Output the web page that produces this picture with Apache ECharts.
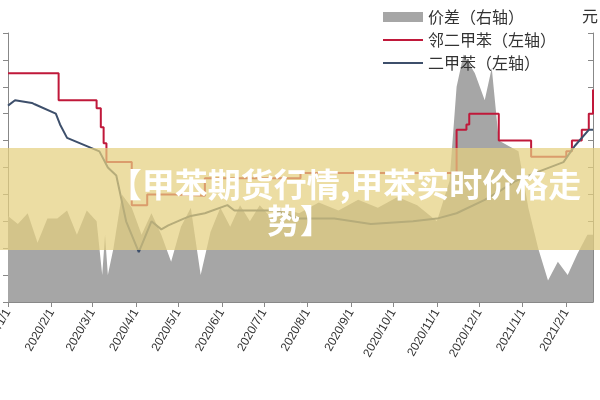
<!DOCTYPE html>
<html><head><meta charset="utf-8">
<script src="https://cdn.jsdelivr.net/npm/echarts@6/dist/echarts.min.js"></script>
<style>html,body{margin:0;background:#fff}#main{width:600px;height:400px}</style>
</head><body><div id="main"></div>
<script>
// 数据
var redData = [['2020/1/1',8.5],['2020/2/6',7.5],['2020/3/4',7.2],['2020/3/7',6.5],['2020/3/9',5.9],['2020/3/11',5.2],
  ['2020/3/29',3.6],['2020/4/9',4.0],['2020/4/29',3.95],['2020/5/20',4.6],['2020/7/27',4.8],['2020/11/15',6.4],
  ['2020/11/22',6.6],['2020/11/24',7.0],['2020/12/15',6.0],['2021/1/7',5.4],['2021/2/1',5.6],['2021/2/5',6.0],
  ['2021/2/12',6.4],['2021/2/17',7.0],['2021/2/20',7.9]];
var blueData = [['2020/1/1',7.3],['2020/1/6',7.5],['2020/1/18',7.4],['2020/1/20',7.35],['2020/2/4',7.0],['2020/2/7',6.6],
  ['2020/2/12',6.1],['2020/3/6',5.6],['2020/3/12',5.0],['2020/3/18',4.7],['2020/3/25',3.0],['2020/4/3',1.85],
  ['2020/4/12',3.0],['2020/4/19',2.7],['2020/4/24',2.85],['2020/5/5',3.1],['2020/5/10',3.2],['2020/5/20',3.3],
  ['2020/6/5',3.6],['2020/6/10',3.4],['2020/7/10',3.4],['2020/7/25',3.1],['2020/8/20',3.1],['2020/9/15',2.9],
  ['2020/10/15',3.0],['2020/11/1',3.1],['2020/11/15',3.3],['2020/12/5',3.8],['2020/12/15',4.1],['2020/12/27',4.5],
  ['2021/1/10',4.8],['2021/1/30',5.2],['2021/2/7',5.8],['2021/2/17',6.4],['2021/2/20',6.4]];
var spreadData = [['2020/1/1',3.2],['2020/1/8',2.9],['2020/1/15',3.3],['2020/1/22',2.2],['2020/1/29',3.1],['2020/2/5',3.1],
  ['2020/2/12',3.4],['2020/2/19',2.5],['2020/2/26',3.4],['2020/3/4',3.0],['2020/3/8',1.0],['2020/3/10',2.5],
  ['2020/3/12',1.0],['2020/3/16',2.0],['2020/3/22',4.0],['2020/3/29',3.5],['2020/4/5',2.5],['2020/4/12',3.3],
  ['2020/4/19',2.5],['2020/4/26',1.5],['2020/5/3',2.8],['2020/5/10',3.5],['2020/5/17',1.0],['2020/5/24',2.6],
  ['2020/5/31',3.5],['2020/6/7',2.8],['2020/6/14',3.6],['2020/6/21',3.0],['2020/6/28',3.6],['2020/7/5',3.2],
  ['2020/7/12',3.5],['2020/7/26',3.3],['2020/8/9',3.7],['2020/8/23',3.4],['2020/9/6',3.8],['2020/9/20',3.5],
  ['2020/10/4',3.9],['2020/10/18',3.6],['2020/11/1',3.0],['2020/11/10',4.5],['2020/11/15',8.0],['2020/11/20',9.2],
  ['2020/11/28',8.5],['2020/12/5',7.5],['2020/12/10',8.7],['2020/12/15',6.0],['2020/12/22',5.8],['2020/12/29',5.6],
  ['2021/1/5',3.5],['2021/1/12',2.0],['2021/1/19',0.8],['2021/1/26',1.5],['2021/2/2',1.0],['2021/2/9',1.8],
  ['2021/2/16',2.5],['2021/2/20',2.5]];

// 日期类目
var days = [];
var d = new Date(2020, 0, 1), end = new Date(2021, 1, 20);
while (d <= end) {
  days.push(d.getFullYear() + '/' + (d.getMonth() + 1) + '/' + d.getDate());
  d.setDate(d.getDate() + 1);
}
var isMonthStart = function (i, v) { return /\/1$/.test(v); };

var myChart = echarts.init(document.getElementById('main'));
var option = {
  animation: false,
  grid: { left: 8, right: 7, top: 33, bottom: 98, containLabel: false, outerBoundsMode: 'none' },
  legend: {
    orient: 'vertical', left: 378, top: 4, itemWidth: 40, itemHeight: 10, itemGap: 7,
    textStyle: { color: '#333', fontSize: 16, fontFamily: 'Noto Sans CJK SC' },
    data: [
      { name: '价差（右轴）', icon: 'rect' },
      { name: '邻二甲苯（左轴）', icon: 'path://M0,4h40v2h-40z' },
      { name: '二甲苯（左轴）', icon: 'path://M0,4h40v2h-40z' }
    ]
  },
  xAxis: {
    type: 'category', data: days, boundaryGap: false,
    axisLine: { lineStyle: { color: '#888' } },
    axisTick: { interval: isMonthStart, lineStyle: { color: '#888' } },
    axisLabel: { interval: isMonthStart, rotate: 60, color: '#333', fontSize: 12, margin: 8 }
  },
  yAxis: [
    { type: 'value', min: 0, max: 10, interval: 1, splitLine: { show: false },
      axisLine: { show: true, lineStyle: { color: '#888' } },
      axisTick: { show: true, lineStyle: { color: '#888' } }, axisLabel: { show: false } },
    { type: 'value', min: 0, max: 10, interval: 1, splitLine: { show: false },
      axisLine: { show: true, lineStyle: { color: '#888' } },
      axisTick: { show: true, inside: true, lineStyle: { color: '#888' } }, axisLabel: { show: false } }
  ],
  series: [
    { name: '价差（右轴）', type: 'line', yAxisIndex: 1, data: spreadData, symbol: 'none',
      color: '#a6a6a6', lineStyle: { width: 0 }, areaStyle: { color: '#a6a6a6', opacity: 1 } },
    { name: '邻二甲苯（左轴）', type: 'line', data: redData, symbol: 'none', step: 'end',
      color: '#c0183a', lineStyle: { width: 2 } },
    { name: '二甲苯（左轴）', type: 'line', data: blueData, symbol: 'none',
      color: '#3d4f6b', lineStyle: { width: 2 } }
  ],
  graphic: [
    { type: 'text', right: 2, top: 8, style: { text: '元', fill: '#333', font: '16px "Noto Sans CJK SC"' } },
    { type: 'rect', left: 0, top: 148, shape: { width: 600, height: 102 },
      style: { fill: 'rgba(228,208,128,0.72)' }, z: 100 },
    { type: 'text', x: 345, y: 168, z: 101,
      style: { text: '【甲苯期货行情,甲苯实时价格走', fill: '#fff', align: 'center',
        font: 'bold 33px "Noto Sans CJK SC"' } },
    { type: 'text', x: 300, y: 204, z: 101,
      style: { text: '势】', fill: '#fff', align: 'center',
        font: 'bold 33px "Noto Sans CJK SC"' } }
  ]
};
myChart.setOption(option);
</script>
</body></html>
